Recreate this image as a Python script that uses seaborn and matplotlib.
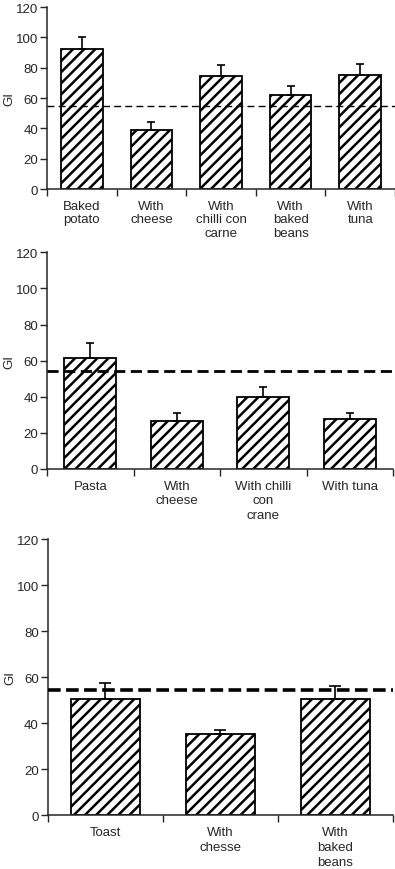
import numpy as np
import pandas as pd
import seaborn as sns
import matplotlib
matplotlib.use("Agg")
import matplotlib.pyplot as plt

#   data
potatoLabels = ["Baked\npotato", "With\ncheese", "With\nchilli con\ncarne", "With\nbaked\nbeans", "With\ntuna"]
potatoGI = [92.5, 39, 74.8, 62, 75.5]
potatoErr = [7.8, 5.4, 7.0, 5.8, 7.0]

pastaLabels = ["Pasta", "With\ncheese", "With chilli\ncon\ncrane", "With tuna"]
pastaGI = [61.5, 26.8, 40, 27.7]
pastaErr = [8.1, 4.2, 5.2, 3.3]

toastLabels = ["Toast", "With\nchesse", "With\nbaked\nbeans"]
toastGI = [50.4, 35.1, 50.4]
toastErr = [7.0, 1.9, 5.8]

refLines = [54.5, 54, 54.5]

sns.set_style("ticks")
plt.rcParams['font.family'] = ['Liberation Sans', 'DejaVu Sans']
plt.rcParams['hatch.linewidth'] = 1.8
plt.rcParams['hatch.color'] = 'black'

fig = plt.figure(figsize=(3.95, 8.7), dpi=100)

#   axes boxes in figure fractions (left, bottom, width, height)
boxes = [
    [0.119, 0.7816, 0.881, 0.209],
    [0.119, 0.4598, 0.876, 0.249],
    [0.121, 0.062, 0.874, 0.317],
]
panels = [
    (potatoLabels, potatoGI, potatoErr),
    (pastaLabels, pastaGI, pastaErr),
    (toastLabels, toastGI, toastErr),
]
dashStyles = [(1.0, (5, 3)), (2.0, (4, 2)), (2.6, (3.5, 1.5))]
capSizes = [3, 3, 4]
lineSpacing = [1.15, 1.25, 1.35]

for i, (labels, gi, err) in enumerate(panels):
    ax = fig.add_axes(boxes[i])
    df = pd.DataFrame({'food': labels, 'GI': gi})
    sns.barplot(data=df, x='food', y='GI', ax=ax, width=0.6,
                color='white', edgecolor='black', linewidth=1.3, saturation=1)
    for p in ax.patches:
        p.set_hatch('///')
        p.set_facecolor('white')

    xs = np.arange(len(labels))
    ax.errorbar(xs, gi, yerr=[np.zeros(len(err)), err], fmt='none',
                ecolor='black', elinewidth=1.2, capsize=capSizes[i], capthick=1.2)

    lw, dash = dashStyles[i]
    ax.axhline(refLines[i], color='black', lw=lw, ls=(0, dash), zorder=5)

    ax.set_ylim(0, 120)
    ax.set_yticks(range(0, 121, 20))
    ax.set_xlim(-0.5, len(labels) - 0.5)
    ax.set_xticks(xs)
    ax.set_xticklabels(labels, fontsize=9.5, linespacing=lineSpacing[i])
    ax.set_xticks(np.arange(len(labels) + 1) - 0.5, minor=True)
    ax.tick_params(axis='x', which='major', length=0, pad=8)
    ax.tick_params(axis='x', which='minor', length=5, width=1, direction='out')
    ax.tick_params(axis='y', labelsize=9.5, length=5, width=1, pad=1.5, direction='out')
    ax.set_xlabel('')
    ax.set_ylabel('GI', fontsize=9.5, labelpad=0)
    sns.despine(ax=ax)
    for s in ['left', 'bottom']:
        ax.spines[s].set_linewidth(1.1)

fig.savefig('out.png', dpi=100)
